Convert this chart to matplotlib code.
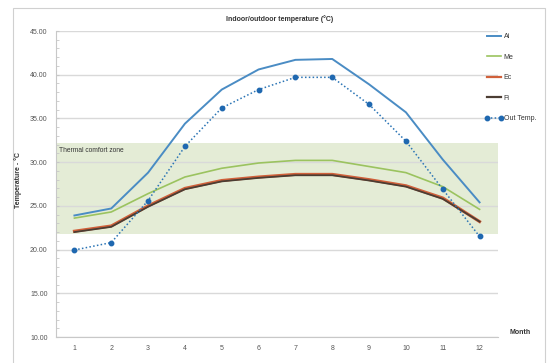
import matplotlib
matplotlib.use("Agg")
import matplotlib.pyplot as plt
from matplotlib.lines import Line2D
from matplotlib.patches import Rectangle
from matplotlib.ticker import MultipleLocator, FormatStrFormatter

months = [1, 2, 3, 4, 5, 6, 7, 8, 9, 10, 11, 12]
month_labels = [str(m) for m in months]

ai = [23.9, 24.7, 28.8, 34.4, 38.3, 40.6, 41.7, 41.8, 38.9, 35.7, 30.3, 25.4]
me = [23.6, 24.3, 26.4, 28.3, 29.3, 29.9, 30.2, 30.2, 29.5, 28.8, 27.2, 24.6]
ec = [22.1, 22.7, 25.0, 27.0, 27.9, 28.3, 28.6, 28.6, 28.0, 27.3, 25.9, 23.2]
fi = [22.0, 22.6, 24.9, 26.9, 27.8, 28.2, 28.5, 28.5, 27.9, 27.2, 25.8, 23.2]
out_temp = [19.95, 20.8, 25.6, 31.8, 36.2, 38.3, 39.7, 39.7, 36.6, 32.4, 26.9, 21.5]

comfort_low, comfort_high = 21.8, 32.2

W, H = 549, 363
fig = plt.figure(figsize=(W / 100, H / 100), dpi=100)
plt.rcParams['font.family'] = ['Liberation Sans', 'DejaVu Sans']

# chart frame
fig.patches.append(Rectangle((13 / W, -0.01), (545 - 13) / W, 1 - 8 / H + 0.01,
                             transform=fig.transFigure, fill=False,
                             edgecolor='#d0d0d0', linewidth=0.8))

ax = fig.add_axes([56 / W, 1 - 337 / H, (498 - 56) / W, (337 - 31) / H])
ax.set_xlim(0.5, 12.5)
ax.set_ylim(10, 45)

ax.add_patch(Rectangle((0.5, comfort_low), 12, comfort_high - comfort_low,
                       facecolor='#e4ecd6', edgecolor='none', zorder=0))

ax.yaxis.set_major_locator(MultipleLocator(5))
ax.yaxis.set_minor_locator(MultipleLocator(1))
ax.yaxis.set_major_formatter(FormatStrFormatter('%.2f'))
ax.set_xticks(months)
ax.set_xticklabels(month_labels)
ax.grid(axis='y', color='#d9d9d9', linewidth=1.0, zorder=0.5)
ax.set_axisbelow(True)
for s in ['top', 'right']:
    ax.spines[s].set_visible(False)
for s in ['left', 'bottom']:
    ax.spines[s].set_color('#c8c8c8')
ax.tick_params(axis='both', labelsize=5, colors='#555555', length=0, pad=6)
ax.tick_params(axis='y', which='major', length=2, color='#c8c8c8', direction='in')
ax.tick_params(axis='y', which='minor', length=2, color='#c8c8c8', direction='in')

ms = 3.2
ax.plot(months, ai, color='#4a8cc4', linewidth=1.4, zorder=3)
ax.plot(months, me, color='#9bc35f', linewidth=1.2, zorder=3)
ax.plot(months, ec, color='#d0603a', linewidth=2.2, zorder=3)
ax.plot(months, fi, color='#4b3d33', linewidth=1.3, zorder=4)
ax.plot(months, out_temp, color='#2a74b5', linewidth=1.1, linestyle=(0, (1, 1.5)),
        marker='o', markersize=ms, markerfacecolor='#1f68b0',
        markeredgecolor='#1f68b0', zorder=5)

ax.text(0.58, comfort_high - 0.5, 'Thermal comfort zone', fontsize=4.8,
        color='#333333', va='top', ha='left')

fig.text(280 / W, 1 - 19 / H, 'Indoor/outdoor temperature (°C)', fontsize=5,
         fontweight='bold', color='#333333', ha='center', va='center')
fig.text(18 / W, 1 - 180 / H, 'Temperature - °C', fontsize=5, fontweight='bold',
         color='#333333', rotation=90, ha='center', va='center')
fig.text(509 / W, 1 - 332 / H, 'Month', fontsize=5, fontweight='bold',
         color='#333333', ha='left', va='center')

handles = [
    Line2D([], [], color='#4a8cc4', linewidth=1.4),
    Line2D([], [], color='#9bc35f', linewidth=1.2),
    Line2D([], [], color='#d0603a', linewidth=1.6),
    Line2D([], [], color='#4b3d33', linewidth=1.6),
    Line2D([], [], color='#2a74b5', linewidth=1.1, linestyle=(0, (1, 1.5)),
           marker='o', markersize=ms, markerfacecolor='#1f68b0',
           markeredgecolor='#1f68b0'),
]
labels = ['Ai', 'Me', 'Ec', 'Fi', 'Out Temp.']
leg = fig.legend(handles, labels, loc='upper left',
                 bbox_to_anchor=(485 / W, 1 - 33 / H), frameon=False,
                 fontsize=5, labelspacing=1.95, handlelength=2.6,
                 handletextpad=0.1, borderaxespad=0, borderpad=0,
                 numpoints=2)
for t in leg.get_texts():
    t.set_color('#333333')

fig.savefig('out.png', dpi=100)
